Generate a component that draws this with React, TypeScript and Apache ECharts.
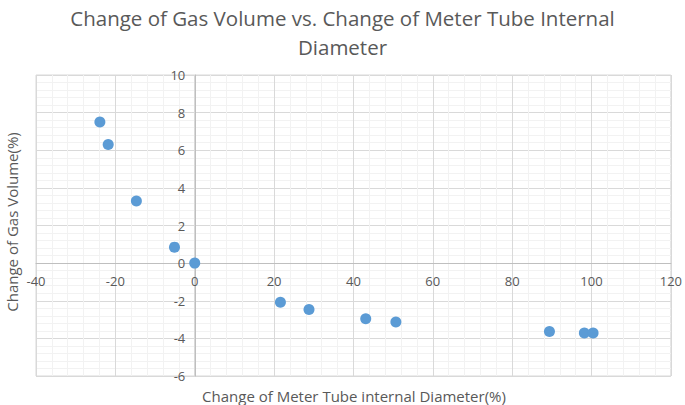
import React, { useEffect, useRef } from "react";
import * as echarts from "echarts";

const titleText = "Change of Gas Volume vs. Change of Meter Tube Internal\nDiameter";
const xTitle = "Change of Meter Tube internal Diameter(%)";
const yTitle = "Change of Gas Volume(%)";
const xValues = [-23.9, -21.8, -14.7, -5.1, 0, 21.6, 28.8, 43.1, 50.7, 89.4, 98.2, 100.4];
const yValues = [7.5, 6.3, 3.3, 0.85, 0, -2.08, -2.47, -2.96, -3.13, -3.64, -3.71, -3.71];

const W = 685;
const H = 405;
const G = { left: 36, right: 12, top: 75, bottom: 29 };
const X_MIN = -40, X_MAX = 120, Y_MIN = -6, Y_MAX = 10;

export default function App() {
  const ref = useRef<HTMLDivElement>(null);
  useEffect(() => {
    if (!ref.current) return;
    const chart = echarts.init(ref.current, undefined, { renderer: "svg" });
    const font = "'Open Sans', Calibri, sans-serif";
    const plotW = W - G.left - G.right;
    const plotH = H - G.top - G.bottom;
    // place axis lines where the other axis is zero
    const xOffset = -((0 - Y_MIN) / (Y_MAX - Y_MIN)) * plotH;
    const yOffset = -((0 - X_MIN) / (X_MAX - X_MIN)) * plotW;
    chart.setOption({
      animation: false,
      backgroundColor: "#ffffff",
      title: {
        text: titleText,
        left: "center",
        top: -2,
        textStyle: { fontFamily: font, fontSize: 20.5, fontWeight: "normal", color: "#595959", lineHeight: 29 },
      },
      grid: { ...G, show: true, borderColor: "#D9D9D9", borderWidth: 1 },
      xAxis: {
        type: "value",
        min: X_MIN,
        max: X_MAX,
        interval: 20,
        position: "bottom",
        offset: xOffset,
        axisLine: { show: true, onZero: false, lineStyle: { color: "#BFBFBF" } },
        axisTick: { show: false },
        axisLabel: { color: "#595959", fontFamily: font, fontSize: 13, margin: 11 },
        splitLine: { lineStyle: { color: "#D9D9D9" } },
        minorTick: { show: false, splitNumber: 5 },
        minorSplitLine: { show: true, lineStyle: { color: "#F2F2F2" } },
      },
      yAxis: {
        type: "value",
        min: Y_MIN,
        max: Y_MAX,
        interval: 2,
        position: "left",
        offset: yOffset,
        axisLine: { show: true, onZero: false, lineStyle: { color: "#BFBFBF" } },
        axisTick: { show: false },
        axisLabel: { color: "#595959", fontFamily: font, fontSize: 13, margin: 10 },
        splitLine: { lineStyle: { color: "#D9D9D9" } },
        minorTick: { show: false, splitNumber: 5 },
        minorSplitLine: { show: true, lineStyle: { color: "#F2F2F2" } },
      },
      graphic: [
        {
          type: "text",
          x: 354,
          y: 396,
          style: { text: xTitle, fill: "#595959", font: `15px ${font}`, textAlign: "center", textVerticalAlign: "middle" },
        },
        {
          type: "text",
          x: 12,
          y: 222,
          rotation: Math.PI / 2,
          style: { text: yTitle, fill: "#595959", font: `15px ${font}`, textAlign: "center", textVerticalAlign: "middle" },
        },
      ],
      series: [
        {
          type: "scatter",
          symbolSize: 11,
          itemStyle: { color: "#5B9BD5", opacity: 1 },
          data: xValues.map((x, i) => [x, yValues[i]]),
        },
      ],
    });
    return () => chart.dispose();
  }, []);
  return <div ref={ref} style={{ width: W, height: H, position: "absolute", left: 0, top: 0 }} />;
}
